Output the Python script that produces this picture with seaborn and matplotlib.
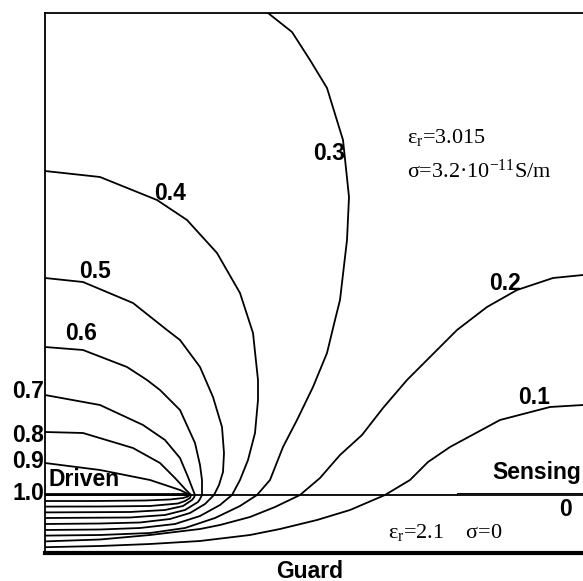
import numpy as np
import pandas as pd
import matplotlib
matplotlib.use("Agg")
import matplotlib.pyplot as plt
import seaborn as sns

# Equipotential lines of the driven / sensing electrode pair.
# Units: x = distance from the left boundary, y = height above the guard plane
# (the lower dielectric layer occupies 0 <= y <= 58).
levels = [0.9, 0.8, 0.7, 0.6, 0.5, 0.4, 0.3, 0.2, 0.1]

x_09 = [0, 55, 105, 135, 141, 144, 143, 138, 125, 100, 50, 0]
y_09 = [90, 83, 73, 63, 60, 58, 56.5, 55, 53.5, 52.5, 52, 52]

x_08 = [0, 38, 88, 115, 130, 141, 146, 145, 140, 133, 105, 55, 0]
y_08 = [121, 120, 105, 90, 75, 63, 58, 55, 52, 49.5, 47, 46.5, 46.4]

x_07 = [0, 55, 98, 120, 135, 143, 148, 150, 149, 147, 138, 120, 85, 0]
y_07 = [158, 148, 128, 113, 95, 76, 63, 58, 55.5, 53, 47, 43, 41, 40.6]

x_06 = [0, 38, 82, 102, 115, 135, 150, 155, 157, 157, 155, 153, 140, 120, 85, 0]
y_06 = [206, 203, 186, 173, 163, 143, 110, 88, 73, 58, 54, 51, 43, 38, 35.5, 35]

x_05 = [0, 38, 88, 122, 135, 155, 168, 177, 179, 178, 174, 169, 160, 145, 125, 95, 55, 0]
y_05 = [275, 271, 250, 223, 213, 186, 156, 126, 100, 81, 68, 58, 49, 40, 34, 30.5, 29.5, 29]

x_04 = [0, 55, 112, 142, 172, 195, 208, 213, 213, 210, 203, 195, 187, 175, 155, 130, 95, 55, 0]
y_04 = [382, 376, 353, 333, 300, 260, 220, 173, 153, 120, 93, 73, 58, 48, 37, 29, 25, 23.5, 23]

x_03 = [223, 247, 265, 282, 298, 304, 302, 295, 290, 282, 268, 252, 238, 225, 212,
        195, 170, 140, 105, 55, 0]
y_03 = [540, 521, 493, 465, 413, 356, 313, 253, 233, 200, 166, 133, 106, 73, 58,
        47, 35, 25, 20, 18, 17.4]

x_02 = [538, 508, 472, 442, 412, 385, 362, 338, 317, 295, 275, 255, 230, 205, 175,
        155, 105, 55, 0]
y_02 = [278, 275, 263, 246, 223, 196, 173, 145, 118, 98, 75, 58, 46, 36, 28,
        24, 18, 13.5, 11.6]

x_01 = [538, 505, 455, 405, 383, 365, 340, 305, 272, 235, 205, 155, 105, 55, 0]
y_01 = [148, 146, 133, 106, 91, 73, 58, 43, 33, 24, 18, 12, 9, 7, 5.8]

contour_x = [x_09, x_08, x_07, x_06, x_05, x_04, x_03, x_02, x_01]
contour_y = [y_09, y_08, y_07, y_06, y_05, y_04, y_03, y_02, y_01]

# Level label positions (inside the domain)
label_text = ["0.4", "0.5", "0.6", "0.3", "0.2", "0.1", "0"]
label_x = [125, 50, 36, 284, 460, 489, 521]
label_y = [359, 282, 220, 400, 270, 156, 43]

# Level labels on the left boundary
edge_text = ["0.7", "0.8", "0.9", "1.0"]
edge_y = [161, 118, 91, 60]

# Geometry
x_max, y_max = 538, 540
interface_y = 58
driven_x = [0, 144]
sensing_x = [412, 538]

rows = []
for lev, xs, ys in zip(levels, contour_x, contour_y):
    for i, (xv, yv) in enumerate(zip(xs, ys)):
        rows.append({"level": lev, "order": i, "x": xv, "y": yv})
df = pd.DataFrame(rows)

sns.set_theme(style="white")
plt.rcParams["font.family"] = ["Liberation Sans", "DejaVu Sans"]
plt.rcParams["mathtext.fontset"] = "custom"
plt.rcParams["mathtext.rm"] = "Liberation Serif"
plt.rcParams["mathtext.it"] = "Liberation Serif:italic"

fig = plt.figure(figsize=(5.83, 5.81), dpi=100)
ax = fig.add_axes([45 / 583, 28 / 581, 538 / 583, 540 / 581])

sns.lineplot(data=df, x="x", y="y", units="level", estimator=None, sort=False,
             color="black", linewidth=1.3, legend=False, ax=ax)

# dielectric interface and electrodes
iface = pd.DataFrame({"x": [0, x_max], "y": [interface_y, interface_y]})
sns.lineplot(data=iface, x="x", y="y", color="black", linewidth=1.3, ax=ax)
drv = pd.DataFrame({"x": driven_x, "y": [interface_y + 1, interface_y + 1]})
sns.lineplot(data=drv, x="x", y="y", color="black", linewidth=2.0, ax=ax)
sen = pd.DataFrame({"x": [sensing_x[0], sensing_x[0], sensing_x[1]],
                    "y": [interface_y, interface_y + 2.5, interface_y + 2.5]})
sns.lineplot(data=sen, x="x", y="y", sort=False, estimator=None,
             color="black", linewidth=0.7, ax=ax)

ax.set_xlim(0, x_max)
ax.set_ylim(0, y_max)
ax.set_xticks([])
ax.set_yticks([])
ax.set_xlabel("")
ax.set_ylabel("")
for side in ["left", "top"]:
    ax.spines[side].set_visible(True)
    ax.spines[side].set_color("black")
    ax.spines[side].set_linewidth(1.3)
ax.spines["right"].set_visible(False)
ax.spines["bottom"].set_color("black")
ax.spines["bottom"].set_linewidth(3.0)

lab_kw = dict(fontsize=16.5, fontweight="bold", color="black")
for t, xv, yv in zip(label_text, label_x, label_y):
    ax.text(xv, yv, t, ha="center", va="center", **lab_kw)
for t, yv in zip(edge_text, edge_y):
    ax.text(-1, yv, t, ha="right", va="center", clip_on=False, **lab_kw)

ax.text(3, 74, "Driven", ha="left", va="center", **lab_kw)
ax.text(536, 80, "Sensing", ha="right", va="center", **lab_kw)
ax.text(265, -18, "Guard", ha="center", va="center", clip_on=False, **lab_kw)

ser_kw = dict(fontsize=16, color="black", family=["Liberation Serif", "DejaVu Serif"])
ax.text(362, 410, r"ε$_{\rm r}$=3.015", ha="left", va="baseline", **ser_kw)
ax.text(362, 375, r"σ=3.2·10$^{-11}$S/m", ha="left", va="baseline", **ser_kw)
ax.text(343, 15, r"ε$_{\rm r}$=2.1    σ=0", ha="left", va="baseline", **ser_kw)

fig.savefig("out.png", dpi=100)
